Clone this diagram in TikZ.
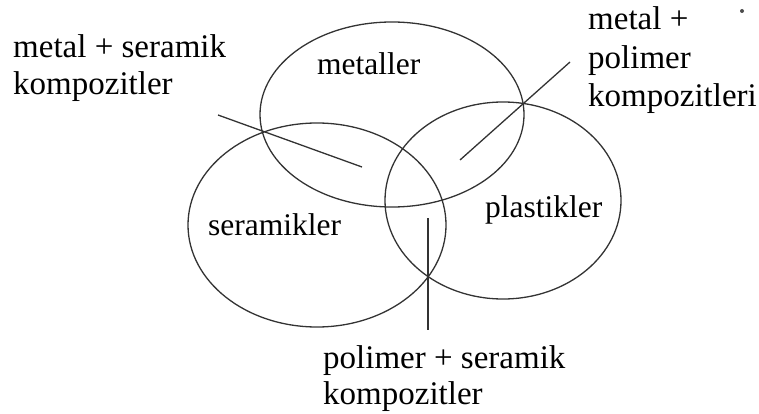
\documentclass[tikz,border=0pt]{standalone}
\usepackage{fontspec}
\setmainfont{Liberation Serif}
\usetikzlibrary{shapes.geometric}

\tikzset{
  setring/.style={ellipse, draw=black!80, line width=1.3pt, inner sep=0pt},
  pointer/.style={draw=black!80, line width=1.3pt},
  % multi-line labels: the base anchor sits on the last line
  outlabel/.style={anchor=base west, inner sep=0pt, align=left,
    font=\fontsize{33}{#1}\selectfont},
  outlabel/.default=37,
  inlabel/.style={anchor=base west, inner sep=0pt,
    font=\fontsize{31.5}{36}\selectfont},
}

\begin{document}
\begin{tikzpicture}[x=1pt, y=-1pt]
  \useasboundingbox (0,0) rectangle (759,414);

  % the three material classes
  \node[setring, minimum width=264pt, minimum height=185pt] (met) at (392,114.5) {};
  \node[setring, minimum width=258pt, minimum height=204pt] (ser) at (317,225) {};
  \node[setring, minimum width=236pt, minimum height=197pt] (pla) at (503,200.5) {};

  \node[inlabel] (metlbl) at (317,75) {metaller};
  \node[inlabel] (serlbl) at (208,235) {seramikler};
  \node[inlabel] (plalbl) at (485,217) {plastikler};

  % composite labels
  \node[outlabel=37] (msl) at (13,95) {metal + seramik\\kompozitler};
  \node[outlabel=38.5] (mpl) at (588,107) {metal +\\polimer\\kompozitleri};
  \node[outlabel=36] (psl) at (323,404) {polimer + seramik\\kompozitler};

  % pointer lines into the overlaps
  \coordinate (ms0) at (218,115);
  \coordinate (ms1) at (362,167);
  \coordinate (mp0) at (570,62);
  \coordinate (mp1) at (460,160);
  \coordinate (ps0) at (428,218);
  \coordinate (ps1) at (428,330);
  \draw[pointer] (ms0) -- (ms1);
  \draw[pointer] (mp0) -- (mp1);
  \draw[pointer] (ps0) -- (ps1);

  % stray dot near the top right corner
  \fill[black!70] (742,11) circle (2pt);
\end{tikzpicture}
\end{document}
